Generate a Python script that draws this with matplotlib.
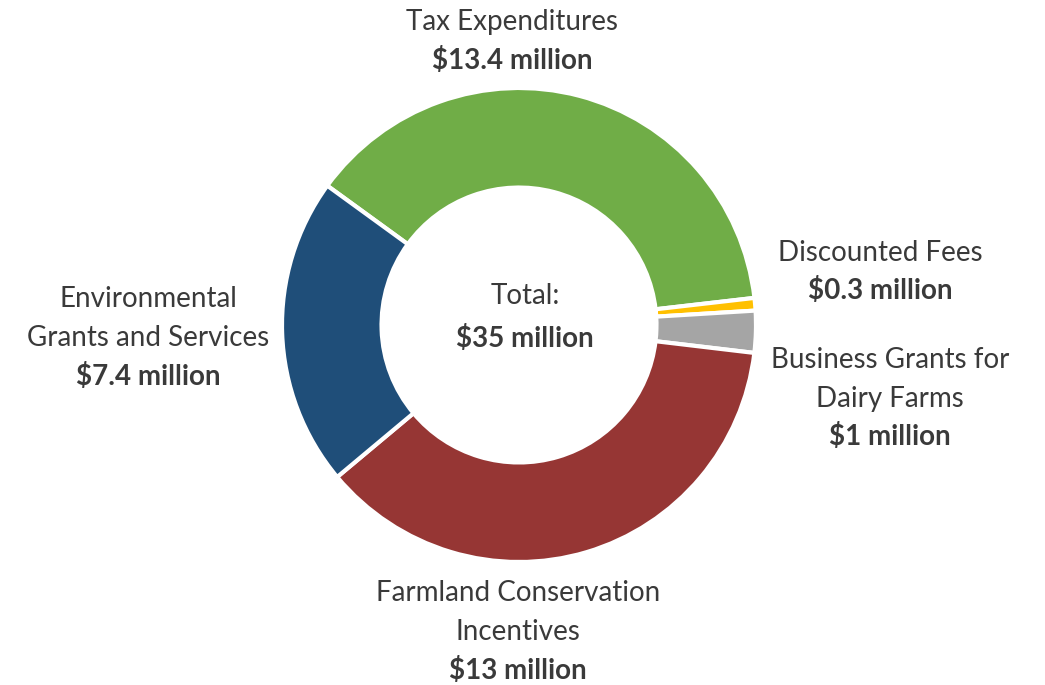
import matplotlib.pyplot as plt

# data
categories = ["Tax Expenditures", "Discounted Fees", "Business Grants for\nDairy Farms",
              "Farmland Conservation\nIncentives", "Environmental\nGrants and Services"]
values = [13.4, 0.3, 1.0, 13.0, 7.4]
value_labels = ["$13.4 million", "$0.3 million", "$1 million", "$13 million", "$7.4 million"]
colors = ["#70AD47", "#FFC000", "#A5A5A5", "#963634", "#1F4E79"]
total_label = "$35 million"

plt.rcParams['font.family'] = ['Lato', 'DejaVu Sans']
text_color = "#3A3A3A"
fs = 20

fig = plt.figure(figsize=(10.45, 6.85), dpi=100)
ax = fig.add_axes([0, 0, 1, 1])

ax.pie(values, colors=colors, startangle=144, counterclock=False, radius=1.0,
       wedgeprops=dict(width=0.42, edgecolor="white", linewidth=3))

# 1 data unit = 237 px, centre at pixel (519, 325)
R = 237.0
cx, cy = 519.0, 325.0
ax.set_xlim(-cx / R, (1045 - cx) / R)
ax.set_ylim(-(685 - cy) / R, cy / R)
ax.set_aspect("equal")
ax.axis("off")


def px(x, y):
    return (x - cx) / R, (cy - y) / R


# label positions in pixels (name lines, then bold value line)
label_pos = [(512, 22), (880, 253), (890, 360), (518, 593), (148, 299)]
line_h = 39

for name, val, (x, y) in zip(categories, value_labels, label_pos):
    lines = name.split("\n")
    for i, ln in enumerate(lines):
        ax.text(*px(x, y + i * line_h), ln, ha="center", va="center",
                fontsize=fs, color=text_color)
    ax.text(*px(x, y + len(lines) * line_h - 1), val, ha="center", va="center",
            fontsize=fs, fontweight="bold", color=text_color)

ax.text(*px(525, 296), "Total:", ha="center", va="center", fontsize=fs, color=text_color)
ax.text(*px(525, 338), total_label, ha="center", va="center", fontsize=fs,
        fontweight="bold", color=text_color)

fig.savefig("out.png", dpi=100)
